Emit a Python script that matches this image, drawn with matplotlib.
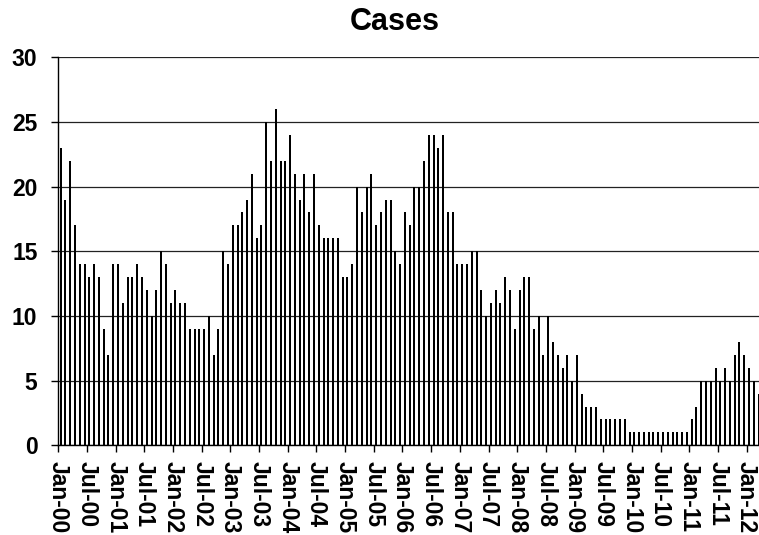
import matplotlib
matplotlib.use("Agg")
import matplotlib.pyplot as plt
import numpy as np

plt.rcParams['font.family'] = ['Liberation Sans', 'DejaVu Sans']

cases_2000 = [23, 19, 22, 17, 14, 14, 13, 14, 13, 9, 7, 14]
cases_2001 = [14, 11, 13, 13, 14, 13, 12, 10, 12, 15, 14, 11]
cases_2002 = [12, 11, 11, 9, 9, 9, 9, 10, 7, 9, 15, 14]
cases_2003 = [17, 17, 18, 19, 21, 16, 17, 25, 22, 26, 22, 22]
cases_2004 = [24, 21, 19, 21, 18, 21, 17, 16, 16, 16, 16, 13]
cases_2005 = [13, 14, 20, 18, 20, 21, 17, 18, 19, 19, 15, 14]
cases_2006 = [18, 17, 20, 20, 22, 24, 24, 23, 24, 18, 18, 14]
cases_2007 = [14, 14, 15, 15, 12, 10, 11, 12, 11, 13, 12, 9]
cases_2008 = [12, 13, 13, 9, 10, 7, 10, 8, 7, 6, 7, 5]
cases_2009 = [7, 4, 3, 3, 3, 2, 2, 2, 2, 2, 2, 1]
cases_2010 = [1, 1, 1, 1, 1, 1, 1, 1, 1, 1, 1, 1]
cases_2011 = [2, 3, 5, 5, 5, 6, 5, 6, 5, 7, 8, 7]
cases_2012 = [6, 5, 4]

tick_labels = ['Jan-00', 'Jul-00', 'Jan-01', 'Jul-01', 'Jan-02', 'Jul-02',
               'Jan-03', 'Jul-03', 'Jan-04', 'Jul-04', 'Jan-05', 'Jul-05',
               'Jan-06', 'Jul-06', 'Jan-07', 'Jul-07', 'Jan-08', 'Jul-08',
               'Jan-09', 'Jul-09', 'Jan-10', 'Jul-10', 'Jan-11', 'Jul-11',
               'Jan-12']

cases = (cases_2000 + cases_2001 + cases_2002 + cases_2003 + cases_2004 +
         cases_2005 + cases_2006 + cases_2007 + cases_2008 + cases_2009 +
         cases_2010 + cases_2011 + cases_2012)
n = len(cases)

W, H = 759, 535
fig = plt.figure(figsize=(W / 100, H / 100), dpi=100)
left = 58.3 / W
bottom = (H - 445.3) / H
height = (445.3 - 57.3) / H
width = (147 * 4.78) / W
ax = fig.add_axes([left, bottom, width, height])

x = np.arange(n) + 0.5
ax.bar(x, cases, width=0.42, color='black', edgecolor='none', zorder=3)

ax.set_xlim(0, 147)
ax.set_ylim(0, 30)
ax.set_yticks(np.arange(0, 31, 5))
ax.set_yticklabels([str(v) for v in range(0, 31, 5)], fontsize=16.5, fontweight='bold')
ax.set_xticks(np.arange(0, len(tick_labels) * 6, 6))
ax.set_xticklabels(tick_labels, rotation=-90, fontsize=16.5, fontweight='bold',
                   va='top', ha='center')

ax.grid(axis='y', color='#222222', linewidth=0.9, zorder=1)
for s in ['top', 'right']:
    ax.spines[s].set_visible(False)
ax.spines['left'].set_linewidth(1.0)
ax.spines['bottom'].set_linewidth(1.0)
ax.tick_params(axis='y', direction='out', length=5, width=1, pad=10)
ax.tick_params(axis='x', direction='out', length=5, width=1, pad=6)

fig.text(395 / W, 1 - 22 / H, 'Cases', fontsize=22, fontweight='bold',
         ha='center', va='center')

fig.savefig('out.png', dpi=100)
